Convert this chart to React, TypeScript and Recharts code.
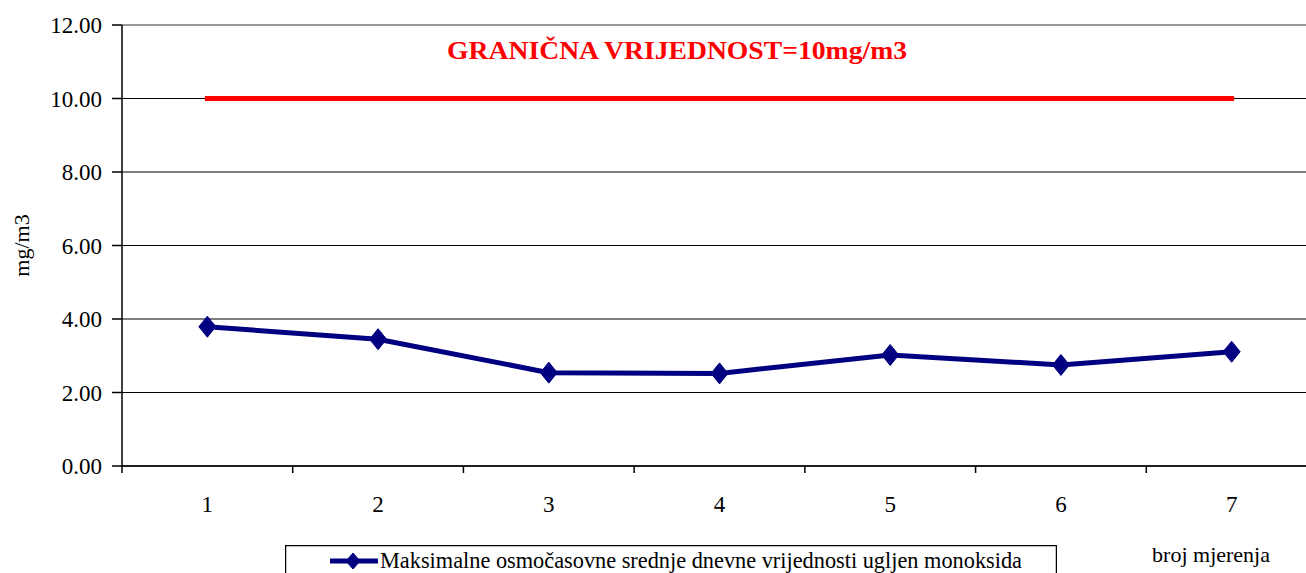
import React from 'react'
import {
  LineChart,
  Line,
  XAxis,
  YAxis,
  CartesianGrid,
  ReferenceLine,
  Legend,
} from 'recharts'

const categories = ['1', '2', '3', '4', '5', '6', '7']
const coValues = [3.79, 3.45, 2.54, 2.52, 3.02, 2.75, 3.11]
const limitValue = 10
const yTicks = [0, 2, 4, 6, 8, 10, 12]

const seriesName = 'Maksimalne osmočasovne srednje dnevne vrijednosti ugljen monoksida'
const limitTitle = 'GRANIČNA VRIJEDNOST=10mg/m3'
const yLabel = 'mg/m3'
const xLabel = 'broj mjerenja'

// categories sit in the middle of each band, tick marks go on the band edges
const data = categories.map((c, i) => ({
  x: i + 0.5,
  label: c,
  co: coValues[i],
  limit: limitValue,
}))
const xTicks = categories.flatMap((_, i) => (i === 0 ? [0, 0.5, 1] : [i + 0.5, i + 1]))

const FONT = "'Liberation Serif', 'Times New Roman', 'DejaVu Serif', serif"
const NAVY = '#000080'
const txt = { fontFamily: FONT }

function Diamond({ cx, cy, w, h, color }: { cx: number; cy: number; w: number; h: number; color: string }) {
  if (cx == null || cy == null) return null
  return (
    <polygon
      points={`${cx},${cy - h} ${cx + w},${cy} ${cx},${cy + h} ${cx - w},${cy}`}
      fill={color}
      stroke={color}
    />
  )
}

function XTick(props: any) {
  const { x, y, payload } = props
  const v = payload.value as number
  if (Number.isInteger(v)) {
    return <line x1={x} y1={y} x2={x} y2={y + 7} stroke="#000" strokeWidth={1.5} />
  }
  return (
    <text x={x} y={y + 46} textAnchor="middle" style={txt} fontSize={23} fill="#000">
      {categories[Math.floor(v)]}
    </text>
  )
}

function YTick(props: any) {
  const { x, y, payload } = props
  return (
    <text x={x} y={y} dy="0.36em" textAnchor="end" style={txt} fontSize={23} fill="#000">
      {(payload.value as number).toFixed(2)}
    </text>
  )
}

function LegendBox(props: any) {
  const entry = (props.payload || []).find((p: any) => p.dataKey === 'co')
  if (!entry) return null
  return (
    <svg width={772} height={60} style={{ display: 'block' }}>
      <rect x={0.5} y={0.5} width={771} height={70} fill="#fff" stroke="#000" strokeWidth={1.5} />
      <line x1={45} y1={16} x2={93} y2={16} stroke={entry.color} strokeWidth={5} />
      <Diamond cx={68} cy={16} w={7} h={8} color={entry.color} />
      <text x={95} y={23} style={txt} fontSize={23} fill="#000" textLength={642} lengthAdjust="spacingAndGlyphs">
        {entry.value}
      </text>
    </svg>
  )
}

export default function App() {
  return (
    <div style={{ position: 'absolute', left: 0, top: 0, width: 1306, height: 573, overflow: 'hidden', background: '#fff', fontFamily: FONT }}>
      <LineChart width={1340} height={600} data={data} margin={{ top: 25, right: 23, bottom: 54, left: 0 }} style={txt}>
        <CartesianGrid vertical={false} stroke="#000" strokeWidth={1.2} />
        <XAxis
          dataKey="x"
          type="number"
          domain={[0, 7]}
          ticks={xTicks}
          interval={0}
          height={80}
          tickLine={false}
          tickSize={0}
          tickMargin={0}
          axisLine={{ stroke: '#000', strokeWidth: 1.5 }}
          tick={<XTick />}
          label={{
            content: (p: any) => (
              <text
                x={p.viewBox.x + p.viewBox.width - 47}
                y={p.viewBox.y + 96}
                textAnchor="end"
                style={txt}
                fontSize={22}
                fill="#000"
              >
                {xLabel}
              </text>
            ),
          }}
        />
        <YAxis
          width={122}
          domain={[0, 12]}
          ticks={yTicks}
          interval={0}
          tickSize={10}
          tickMargin={10}
          axisLine={{ stroke: '#000', strokeWidth: 1.5 }}
          tickLine={{ stroke: '#000', strokeWidth: 1.5 }}
          tick={<YTick />}
          label={{
            content: (p: any) => {
              const cx = p.viewBox.x + 29
              const cy = p.viewBox.y + p.viewBox.height / 2
              return (
                <text
                  x={cx}
                  y={cy}
                  transform={`rotate(-90, ${cx}, ${cy})`}
                  textAnchor="middle"
                  style={txt}
                  fontSize={22}
                  fill="#000"
                >
                  {yLabel}
                </text>
              )
            },
          }}
        />
        <ReferenceLine
          y={12}
          stroke="#a0a0a0"
          strokeWidth={1.5}
          label={{
            content: (p: any) => (
              <text
                x={p.viewBox.x + 555}
                y={p.viewBox.y + 34}
                textAnchor="middle"
                style={txt}
                fontSize={26}
                fontWeight="bold"
                fill="#ff0000"
                textLength={460}
                lengthAdjust="spacingAndGlyphs"
              >
                {limitTitle}
              </text>
            ),
          }}
        />
        <Line
          dataKey="limit"
          stroke="#ff0000"
          strokeWidth={5}
          strokeLinecap="square"
          dot={false}
          activeDot={false}
          legendType="none"
          isAnimationActive={false}
        />
        <Line
          dataKey="co"
          name={seriesName}
          stroke={NAVY}
          strokeWidth={5}
          dot={(p: any) => <Diamond key={p.index} cx={p.cx} cy={p.cy} w={8.5} h={10.5} color={NAVY} />}
          activeDot={false}
          isAnimationActive={false}
        />
        <Legend
          layout="horizontal"
          verticalAlign="middle"
          align="center"
          content={<LegendBox />}
          wrapperStyle={{ left: 285, top: 545, width: 772, height: 60 }}
        />
      </LineChart>
    </div>
  )
}
